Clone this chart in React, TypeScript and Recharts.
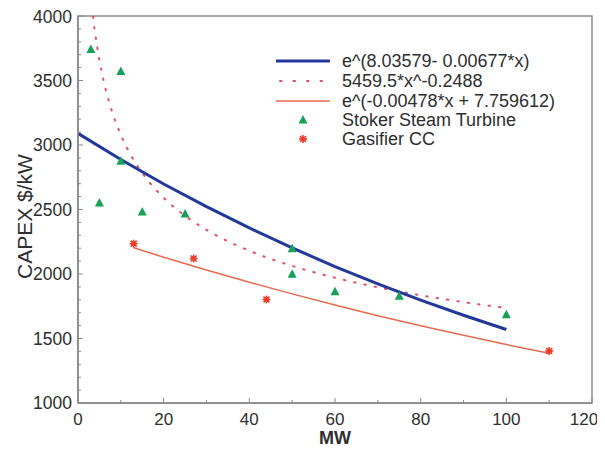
import React from "react";
import { ComposedChart, Line, Scatter, XAxis, YAxis, ReferenceArea, Legend } from "recharts";

// fitted curves
const expFitX = [0, 10, 20, 30, 40, 50, 60, 70, 80, 90, 100];
const expFitY = [3090, 2887, 2698, 2522, 2357, 2202, 2058, 1924, 1798, 1680, 1570];

const powFitX = [3.5, 4, 5, 6, 8, 10, 12, 15, 20, 25, 30, 40, 50, 60, 70, 80, 90, 100];
const powFitY = [3997, 3867, 3658, 3496, 3254, 3079, 2942, 2783, 2591, 2451, 2342, 2180, 2063, 1971, 1897, 1835, 1782, 1736];

const gasFitX = [13, 20, 30, 40, 50, 60, 70, 80, 90, 100, 110];
const gasFitY = [2203, 2130, 2031, 1936, 1846, 1760, 1677, 1599, 1525, 1453, 1386];

// measured points
const stokerX = [3, 5, 10, 10, 15, 25, 50, 50, 60, 75, 100];
const stokerY = [3740, 2550, 3570, 2875, 2480, 2465, 2195, 1998, 1862, 1828, 1685];

const gasX = [13, 27, 44, 110];
const gasY = [2235, 2120, 1802, 1403];

const legendLabels = [
  "e^(8.03579- 0.00677*x)",
  "5459.5*x^-0.2488",
  "e^(-0.00478*x + 7.759612)",
  "Stoker Steam Turbine",
  "Gasifier CC",
];

const xTicks = [0, 10, 20, 30, 40, 50, 60, 70, 80, 90, 100, 110, 120];
const yTicks = Array.from({ length: 31 }, (_, i) => 1000 + i * 100);

const zip = (xs: number[], ys: number[]) => xs.map((x, i) => ({ x, y: ys[i] }));

const BLUE = "#22399a";
const PINK = "#e2506c";
const ORANGE = "#ea6a50";
const GREEN = "#16a058";
const RED = "#e8402c";
const AXIS = "#8a8a8a";
const TEXT = "#2e2e2e";
const FONT = "'Liberation Sans', Arial, sans-serif";

const Triangle = ({ cx, cy }: any) => (
  <polygon points={`${cx},${cy - 5} ${cx + 4.5},${cy + 3.5} ${cx - 4.5},${cy + 3.5}`} fill={GREEN} />
);

const Star = ({ cx, cy }: any) => (
  <g stroke={RED} strokeWidth={1.6}>
    <circle cx={cx} cy={cy} r={2.6} fill={RED} stroke="none" />
    <line x1={cx - 4} y1={cy} x2={cx + 4} y2={cy} />
    <line x1={cx} y1={cy - 4} x2={cx} y2={cy + 4} />
    <line x1={cx - 3} y1={cy - 3} x2={cx + 3} y2={cy + 3} />
    <line x1={cx - 3} y1={cy + 3} x2={cx + 3} y2={cy - 3} />
  </g>
);

const XTick = ({ x, y, payload }: any) => {
  const v = payload.value;
  const major = v % 20 === 0;
  const shift = v === 120 ? -8 : 0;
  return (
    <g>
      <line x1={x} x2={x} y1={y} y2={y - (major ? 5 : 3)} stroke={AXIS} />
      {major && (
        <text x={x + shift} y={y + 22} textAnchor="middle" fill={TEXT} fontSize={17} fontFamily={FONT}>
          {v}
        </text>
      )}
    </g>
  );
};

const YTick = ({ x, y, payload }: any) => {
  const v = payload.value;
  const major = v % 500 === 0;
  return (
    <g>
      <line x1={x} x2={x + (major ? 5 : 3)} y1={y} y2={y} stroke={AXIS} />
      {major && (
        <text x={x - 6} y={v === 4000 ? y + 7 : y + 6} textAnchor="end" fill={TEXT} fontSize={17.5} fontFamily={FONT}>
          {v}
        </text>
      )}
    </g>
  );
};

const YLabel = ({ viewBox }: any) => {
  const cx = 24;
  const cy = viewBox.y + viewBox.height / 2 + 7;
  return (
    <text x={cx} y={cy} transform={`rotate(-90 ${cx} ${cy})`} textAnchor="middle" fill={TEXT} fontSize={21} fontFamily={FONT}>
      CAPEX $/kW
    </text>
  );
};

const XLabel = ({ viewBox }: any) => {
  const cx = viewBox.x + viewBox.width / 2;
  return (
    <text x={cx} y={436} textAnchor="middle" fill={TEXT} fontSize={18} fontWeight="bold" fontFamily={FONT}>
      MW
    </text>
  );
};

const LegendBox = () => {
  const rowY = [11, 31, 51, 70, 89];
  return (
    <svg width={340} height={100} style={{ display: "block" }}>
      <line x1={16} x2={70} y1={rowY[0]} y2={rowY[0]} stroke={BLUE} strokeWidth={3} />
      <line x1={20} x2={70} y1={rowY[1]} y2={rowY[1]} stroke={PINK} strokeWidth={2} strokeDasharray="1.5 12" strokeLinecap="round" />
      <line x1={16} x2={70} y1={rowY[2]} y2={rowY[2]} stroke={ORANGE} strokeWidth={1.5} />
      <Triangle cx={43} cy={rowY[3]} />
      <Star cx={43} cy={rowY[4]} />
      {legendLabels.map((t, i) => (
        <text key={t} x={82} y={rowY[i] + 6} fill={TEXT} fontSize={18} fontFamily={FONT}>
          {t}
        </text>
      ))}
    </svg>
  );
};

export default function App() {
  return (
    <div style={{ width: 597, height: 441, background: "#fff" }}>
      <ComposedChart width={597} height={441} margin={{ top: 8, right: 13, bottom: 0, left: 0 }}>
        <XAxis
          type="number"
          dataKey="x"
          domain={[0, 120]}
          ticks={xTicks}
          interval={0}
          allowDataOverflow
          tickSize={0}
          tickMargin={0}
          tick={<XTick />}
          axisLine={{ stroke: AXIS, strokeWidth: 1.5 }}
          height={46}
          label={<XLabel />}
        />
        <YAxis
          type="number"
          dataKey="y"
          domain={[1000, 4000]}
          ticks={yTicks}
          interval={0}
          allowDataOverflow
          tickSize={0}
          tickMargin={0}
          tick={<YTick />}
          axisLine={{ stroke: AXIS, strokeWidth: 1.5 }}
          width={70}
          label={<YLabel />}
        />
        <ReferenceArea x1={0} x2={120} y1={1000} y2={4000} fill="none" stroke={AXIS} strokeWidth={1.5} />
        <Line data={zip(powFitX, powFitY)} dataKey="y" type="monotone" stroke={PINK} strokeWidth={2} strokeDasharray="1.5 9" strokeLinecap="round" dot={false} isAnimationActive={false} />
        <Line data={zip(gasFitX, gasFitY)} dataKey="y" type="monotone" stroke={ORANGE} strokeWidth={1.5} dot={false} isAnimationActive={false} />
        <Line data={zip(expFitX, expFitY)} dataKey="y" type="linear" stroke={BLUE} strokeWidth={3} dot={false} isAnimationActive={false} />
        <Scatter data={zip(stokerX, stokerY)} dataKey="y" shape={<Triangle />} isAnimationActive={false} />
        <Scatter data={zip(gasX, gasY)} dataKey="y" shape={<Star />} isAnimationActive={false} />
        <Legend
          layout="horizontal"
          verticalAlign="middle"
          align="center"
          content={() => <LegendBox />}
          wrapperStyle={{ position: "absolute", left: 252, top: 42, width: 340, height: 100 }}
        />
      </ComposedChart>
    </div>
  );
}
